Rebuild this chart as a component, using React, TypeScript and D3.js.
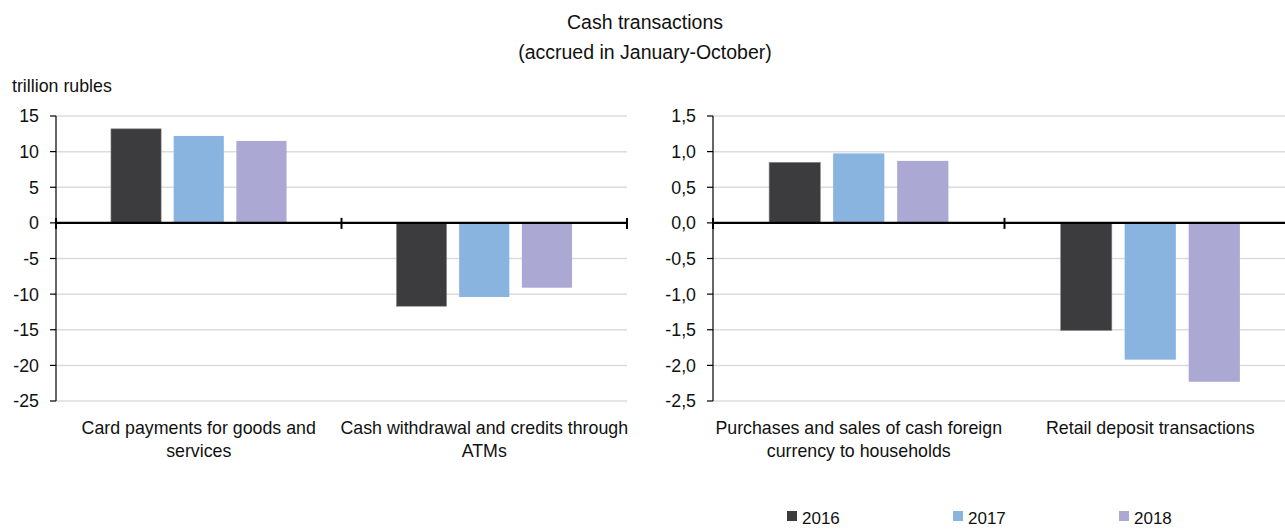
import React from 'react';
import * as d3 from 'd3';

// series years and colours
const years = ['2016', '2017', '2018'];
const yearColors = ['#3c3c3e', '#8ab4e0', '#aba8d4'];

// left panel: trillion rubles
const leftCategories = ['Card payments for goods and services', 'Cash withdrawal and credits through ATMs'];
const leftLabelLines = [['Card payments for goods and', 'services'], ['Cash withdrawal and credits through', 'ATMs']];
const left2016 = [13.2, -11.7];
const left2017 = [12.2, -10.4];
const left2018 = [11.5, -9.1];
const leftTicks = [15, 10, 5, 0, -5, -10, -15, -20, -25];

// right panel
const rightCategories = ['Purchases and sales of cash foreign currency to households', 'Retail deposit transactions'];
const rightLabelLines = [['Purchases and sales of cash foreign', 'currency to households'], ['Retail deposit transactions']];
const right2016 = [0.85, -1.51];
const right2017 = [0.975, -1.92];
const right2018 = [0.87, -2.23];
const rightTicks = [1.5, 1.0, 0.5, 0, -0.5, -1.0, -1.5, -2.0, -2.5];

const FONT = '"Liberation Sans", Arial, sans-serif';
const FS = 17.8;

type PanelProps = {
  x0: number;
  x1: number;
  categories: string[];
  labelLines: string[][];
  series: number[][];
  ticks: number[];
  domain: [number, number];
  fmt: (v: number) => string;
  labelX: number;
};

function Panel({ x0, x1, categories, labelLines, series, ticks, domain, fmt, labelX }: PanelProps) {
  const y = d3.scaleLinear().domain(domain).range([401, 116]);
  const x = d3.scaleBand().domain(categories).range([x0, x1]);
  const groupW = x.bandwidth() * 0.615;
  const xs = d3.scaleBand().domain(years).range([0, groupW]).paddingInner(0.2);
  const zero = y(0);

  return (
    <g>
      {ticks.filter(t => t !== 0).map(t => (
        <line key={'g' + t} x1={x0} x2={x1} y1={y(t)} y2={y(t)} stroke="#dcdcdc" strokeWidth={1.5} />
      ))}
      {categories.map((c, ci) => {
        const gx = (x(c) as number) + (x.bandwidth() - groupW) / 2;
        return years.map((yr, si) => {
          const v = series[si][ci];
          return (
            <rect key={c + yr}
              x={gx + (xs(yr) as number)}
              y={Math.min(y(v), zero)}
              width={xs.bandwidth()}
              height={Math.abs(y(v) - zero)}
              fill={yearColors[si]}
              stroke={si === 0 ? '#8a8a8a' : 'none'}
              strokeWidth={0.6} />
          );
        });
      })}
      <line x1={x0} x2={x0} y1={y(domain[1])} y2={y(domain[0])} stroke="#000" strokeWidth={1.2} />
      {ticks.map(t => (
        <g key={'t' + t}>
          <line x1={x0 - 6} x2={x0} y1={y(t)} y2={y(t)} stroke="#000" strokeWidth={1.2} />
          <text x={labelX} y={y(t)} dy="0.36em" textAnchor="end" fontSize={FS} fontFamily={FONT} fill="#111">{fmt(t)}</text>
        </g>
      ))}
      <line x1={x0} x2={x1} y1={zero} y2={zero} stroke="#000" strokeWidth={2.2} />
      {[x0, ...categories.map(c => (x(c) as number) + x.bandwidth())].map((tx, i) => (
        <line key={'c' + i} x1={tx} x2={tx} y1={zero - 5} y2={zero + 6} stroke="#000" strokeWidth={2} />
      ))}
      {categories.map((c, ci) => (
        <text key={'l' + c} x={(x(c) as number) + x.bandwidth() / 2} y={434} textAnchor="middle" fontSize={FS} fontFamily={FONT} fill="#111">
          {labelLines[ci].map((ln, li) => (
            <tspan key={li} x={(x(c) as number) + x.bandwidth() / 2} dy={li === 0 ? 0 : 23}>{ln}</tspan>
          ))}
        </text>
      ))}
    </g>
  );
}

export default function App() {
  const commaFmt = (v: number) => d3.format('.1f')(v).replace('.', ',').replace('−', '-');
  const intFmt = (v: number) => String(v);
  const legendX = [787, 953, 1119];
  return (
    <svg width={1285} height={529} style={{ position: 'absolute', left: 0, top: 0 }}>
      <rect width={1285} height={529} fill="#fff" />
      <text x={645} y={29} textAnchor="middle" fontSize={19.5} fontFamily={FONT} fill="#111">Cash transactions</text>
      <text x={645} y={59} textAnchor="middle" fontSize={19.5} fontFamily={FONT} fill="#111">(accrued in January-October)</text>
      <text x={12} y={92} fontSize={FS} fontFamily={FONT} fill="#111">trillion rubles</text>
      <Panel x0={56} x1={627} categories={leftCategories} labelLines={leftLabelLines}
        series={[left2016, left2017, left2018]} ticks={leftTicks} domain={[-25, 15]} fmt={intFmt} labelX={39} />
      <Panel x0={713} x1={1296} categories={rightCategories} labelLines={rightLabelLines}
        series={[right2016, right2017, right2018]} ticks={rightTicks} domain={[-2.5, 1.5]} fmt={commaFmt} labelX={696} />
      {years.map((yr, i) => (
        <g key={yr}>
          <rect x={legendX[i]} y={511} width={10} height={10} fill={yearColors[i]} />
          <text x={legendX[i] + 15} y={524} fontSize={17} fontFamily={FONT} fill="#111">{yr}</text>
        </g>
      ))}
    </svg>
  );
}
